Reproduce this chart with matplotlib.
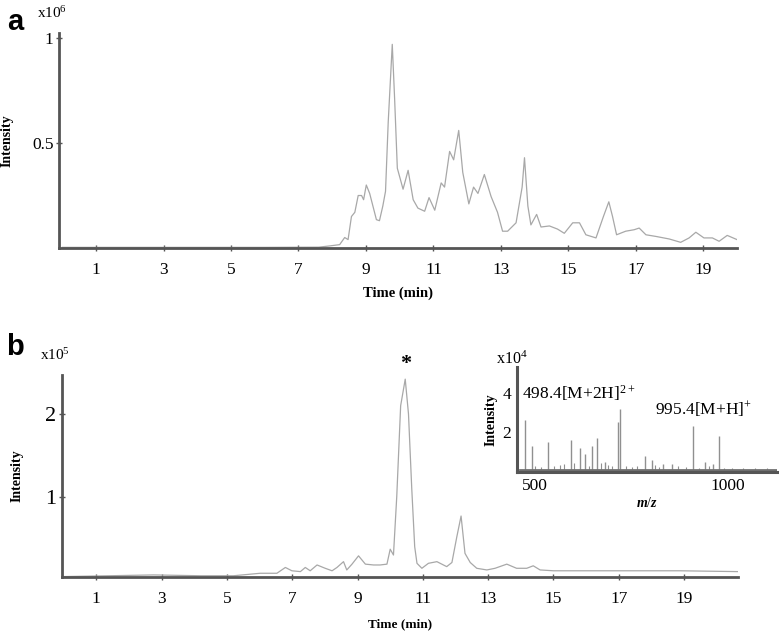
import matplotlib
matplotlib.use("Agg")
import matplotlib.pyplot as plt

plt.rcParams["font.family"] = ["Liberation Serif", "DejaVu Serif"]
plt.rcParams["mathtext.fontset"] = "custom"
plt.rcParams["mathtext.rm"] = "Liberation Serif"
plt.rcParams["mathtext.it"] = "Liberation Serif:italic:bold"

# panel a: total ion chromatogram (x10^6)
time_a = [0.0, 2.0, 4.0, 6.0, 7.6, 7.93, 8.22, 8.37, 8.47, 8.57, 8.67, 8.77, 8.87, 8.93,
          9.01, 9.11, 9.31, 9.4, 9.5, 9.58, 9.66, 9.78, 9.85, 9.93, 10.1, 10.25, 10.4,
          10.54, 10.74, 10.87, 11.04, 11.23, 11.33, 11.48, 11.6, 11.75, 11.87, 12.05,
          12.19, 12.32, 12.51, 12.71, 12.9, 13.05, 13.2, 13.45, 13.63, 13.7, 13.8, 13.89,
          14.06, 14.19, 14.44, 14.68, 14.88, 15.13, 15.33, 15.52, 15.82, 16.04, 16.2,
          16.31, 16.43, 16.7, 16.95, 17.1, 17.3, 17.6, 17.99, 18.33, 18.58, 18.78, 19.02,
          19.27, 19.47, 19.71, 20.0]
inten_a = [0.003, 0.003, 0.003, 0.003, 0.004, 0.01, 0.016, 0.05, 0.04, 0.15, 0.17, 0.25,
           0.25, 0.23, 0.30, 0.26, 0.135, 0.13, 0.2, 0.27, 0.6, 0.97, 0.71, 0.38, 0.28,
           0.37, 0.23, 0.19, 0.175, 0.24, 0.18, 0.31, 0.29, 0.46, 0.42, 0.56, 0.36, 0.21,
           0.29, 0.26, 0.35, 0.245, 0.17, 0.08, 0.08, 0.12, 0.29, 0.43, 0.2, 0.11, 0.16,
           0.10, 0.105, 0.09, 0.07, 0.12, 0.12, 0.063, 0.048, 0.15, 0.22, 0.15, 0.063,
           0.08, 0.087, 0.095, 0.063, 0.055, 0.043, 0.027, 0.048, 0.075, 0.048, 0.048,
           0.032, 0.06, 0.04]

# panel b: extracted ion chromatogram (x10^5)
time_b = [0.0, 2.76, 4.19, 5.2, 6.02, 6.53, 6.79, 6.99, 7.25, 7.4, 7.55, 7.76, 8.01, 8.22,
          8.37, 8.57, 8.67, 8.83, 9.03, 9.24, 9.49, 9.69, 9.9, 10.0, 10.1, 10.2, 10.32,
          10.46, 10.56, 10.66, 10.75, 10.82, 10.97, 11.17, 11.43, 11.73, 11.89, 12.04,
          12.17, 12.29, 12.45, 12.65, 12.96, 13.21, 13.57, 13.87, 14.18, 14.38, 14.59,
          15.0, 15.81, 16.82, 17.85, 18.87, 20.65]
inten_b = [0.04, 0.06, 0.05, 0.05, 0.08, 0.08, 0.15, 0.11, 0.10, 0.15, 0.11, 0.18, 0.14,
           0.11, 0.15, 0.22, 0.12, 0.19, 0.29, 0.19, 0.18, 0.18, 0.19, 0.37, 0.30, 1.0,
           2.1, 2.42, 2.0, 1.1, 0.4, 0.2, 0.14, 0.2, 0.22, 0.16, 0.21, 0.52, 0.77, 0.32,
           0.21, 0.14, 0.12, 0.14, 0.19, 0.14, 0.14, 0.17, 0.12, 0.11, 0.11, 0.11, 0.11,
           0.11, 0.10]

# inset: MS spectrum of the starred peak (x10^4)
mz_peaks = [474, 491, 534, 592, 617, 630, 647, 661, 681, 715, 720, 785, 802, 831, 854,
            910, 940, 961, 977]
mz_heights = [2.6, 1.3, 1.5, 1.6, 1.2, 0.9, 1.3, 1.7, 0.5, 2.5, 3.2, 0.8, 0.6, 0.4, 0.4,
              2.3, 0.5, 0.4, 1.8]
mz_small = [500, 515, 550, 565, 575, 600, 640, 670, 690, 700, 735, 750, 765, 810, 820,
            870, 890, 925, 950, 990, 1010, 1040, 1070, 1100]
mz_small_h = [0.3, 0.25, 0.3, 0.35, 0.4, 0.45, 0.3, 0.45, 0.35, 0.3, 0.3, 0.25, 0.3,
              0.35, 0.25, 0.3, 0.25, 0.2, 0.3, 0.2, 0.2, 0.2, 0.2, 0.2]

xticks = [1, 3, 5, 7, 9, 11, 13, 15, 17, 19]
trace_col = "#a8a8a8"
spine_col = "#555555"

fig = plt.figure(figsize=(7.79, 6.37), dpi=100)


def style_axes(ax, lw=2.0):
    for s in ["top", "right"]:
        ax.spines[s].set_visible(False)
    for s in ["left", "bottom"]:
        ax.spines[s].set_color(spine_col)
        ax.spines[s].set_linewidth(lw)
    ax.tick_params(direction="inout", length=4, width=1, color=spine_col, pad=6)


# ---- panel a ----
ax1 = fig.add_axes([59 / 779, 1 - 248 / 637, 678 / 779, 215 / 637])
ax1.plot(time_a, inten_a, color=trace_col, lw=0.9)
ax1.set_xlim(-0.1, 20.0)
ax1.set_ylim(0, 1.024)
ax1.set_xticks(xticks)
ax1.set_yticks([0.5, 1])
ax1.set_yticklabels(["0.5", "1"])
style_axes(ax1)
ax1.tick_params(axis="x", labelsize=12.5, pad=8)
ax1.tick_params(axis="y", labelsize=12.5, pad=2)
ax1.set_xlabel("Time (min)", fontsize=10.5, fontweight="bold", labelpad=6)
ax1.set_ylabel("Intensity", fontsize=10, fontweight="bold", labelpad=13)
fig.text(15 / 779, 1 - 22 / 637, "a", fontsize=21, fontweight="bold",
         family="Liberation Sans", ha="center", va="center")
fig.text(37 / 779, 1 - 13 / 637, "x10$^{6}$", fontsize=11, ha="left", va="center")

# ---- panel b ----
ax2 = fig.add_axes([62 / 779, 1 - 577 / 637, 676 / 779, 202 / 637])
ax2.plot(time_b, inten_b, color=trace_col, lw=0.9)
ax2.set_xlim(-0.05, 20.65)
ax2.set_ylim(0.035, 2.47)
ax2.set_xticks(xticks)
ax2.set_yticks([1, 2])
style_axes(ax2)
ax2.tick_params(axis="x", labelsize=12.5, pad=8)
ax2.tick_params(axis="y", labelsize=16, pad=2)
ax2.set_xlabel("Time (min)", fontsize=9.5, fontweight="bold", labelpad=8)
ax2.set_ylabel("Intensity", fontsize=10, fontweight="bold", labelpad=16)
ax2.text(time_b[inten_b.index(max(inten_b))], 2.6, "*", fontsize=16, fontweight="bold",
         ha="center", va="center", clip_on=False)
fig.text(15 / 779, 1 - 347 / 637, "b", fontsize=21, fontweight="bold",
         family="Liberation Sans", ha="center", va="center")
fig.text(40 / 779, 1 - 355 / 637, "x10$^{5}$", fontsize=11, ha="left", va="center")

# ---- inset ----
ax3 = fig.add_axes([517 / 779, 1 - 472 / 637, 260 / 779, 105 / 637])
ax3.vlines(mz_small, 0, mz_small_h, color="#909090", lw=0.8)
ax3.vlines(mz_peaks, 0, mz_heights, color="#909090", lw=1.0)
ax3.plot([460, 1127], [0.1, 0.1], color="#707070", lw=2)
ax3.set_xlim(453, 1127)
ax3.set_ylim(0, 5.3)
ax3.set_xticks([500, 1000])
ax3.set_yticks([2, 4])
style_axes(ax3, lw=2.2)
ax3.tick_params(length=0, labelsize=12.5, pad=4)
ax3.set_xlabel("$m/z$", fontsize=10, labelpad=2)
ax3.set_ylabel("Intensity", fontsize=10, fontweight="bold", labelpad=4)
ax3.text(-0.02, 1.07, "x10$^{4}$", transform=ax3.transAxes, fontsize=11.5,
         ha="center", va="center")
ax3.text(0.02, 0.75, "498.4[M+2H]$^{2+}$", transform=ax3.transAxes, fontsize=12.5,
         ha="left", va="center")
ax3.text(0.53, 0.60, "995.4[M+H]$^{+}$", transform=ax3.transAxes, fontsize=12.5,
         ha="left", va="center")

fig.savefig("out.png", dpi=100)
